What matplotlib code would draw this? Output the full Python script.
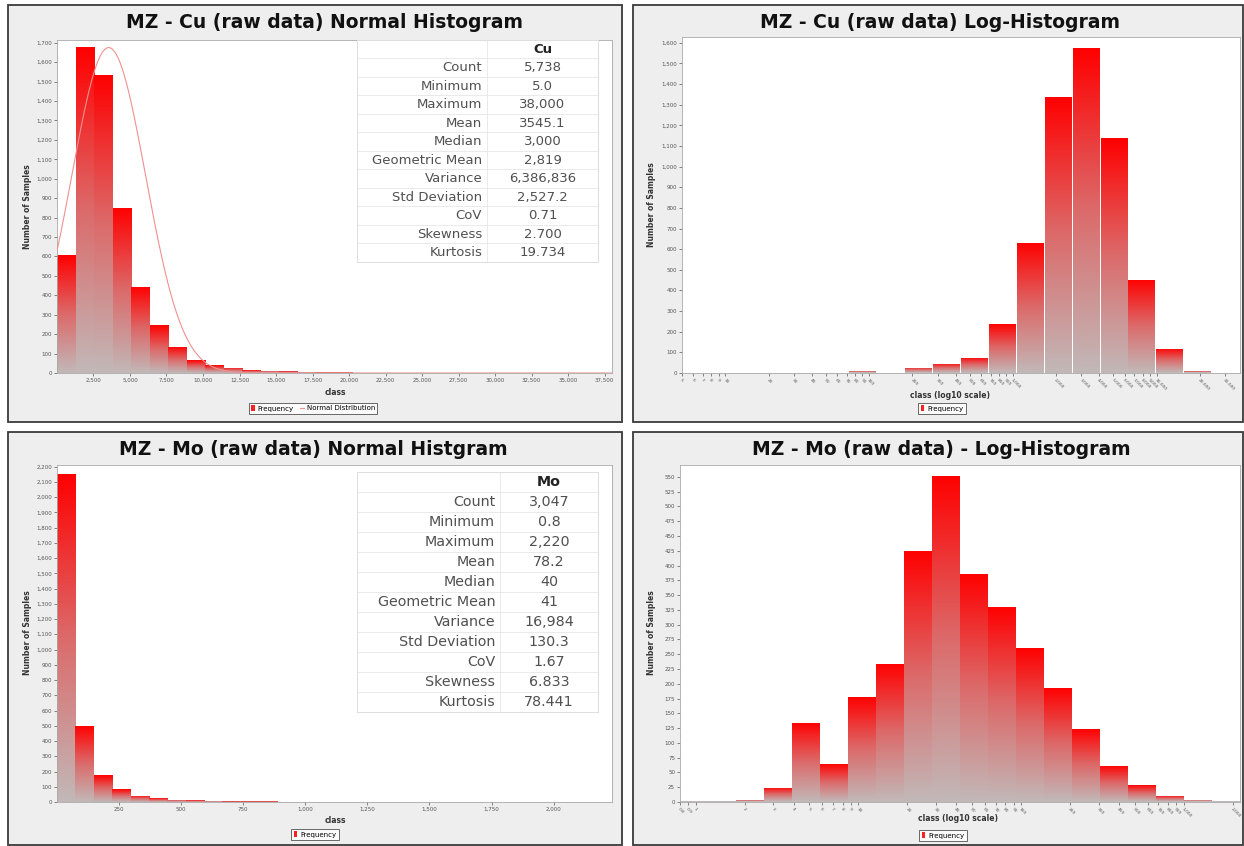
import numpy as np
import matplotlib.pyplot as plt
from matplotlib.patches import Rectangle, Patch
from matplotlib.lines import Line2D
from matplotlib.colors import LinearSegmentedColormap
from matplotlib.ticker import FuncFormatter, MultipleLocator, FixedLocator, NullLocator

W, H = 1244, 846
fig = plt.figure(figsize=(W / 100, H / 100), dpi=100)

# ---- data ----
stat_labels = ['Count', 'Minimum', 'Maximum', 'Mean', 'Median', 'Geometric Mean',
               'Variance', 'Std Deviation', 'CoV', 'Skewness', 'Kurtosis']
cu_stats = ['5,738', '5.0', '38,000', '3545.1', '3,000', '2,819',
            '6,386,836', '2,527.2', '0.71', '2.700', '19.734']
mo_stats = ['3,047', '0.8', '2,220', '78.2', '40', '41',
            '16,984', '130.3', '1.67', '6.833', '78.441']

cu_min, cu_max, cu_mean, cu_std = 5.0, 38000.0, 3545.1, 2527.2
mo_min, mo_max = 0.8, 2220.0

# 30 equal bins, Cu raw
cu_counts = [606, 1677, 1534, 850, 443, 247, 134, 65, 41, 27, 14, 12, 8, 6, 4,
             3, 2, 2, 1, 1, 1, 1, 0, 1, 0, 0, 1, 0, 0, 1]
cu_norm_peak = 1675
# 20 log bins, Cu
cu_log_counts = [0, 0, 0, 0, 0, 0, 10, 0, 29, 48, 77, 238, 634, 1340, 1575,
                 1140, 455, 121, 10, 0]
# 30 equal bins, Mo raw
mo_counts = [2154, 499, 177, 85, 40, 25, 15, 12, 8, 6, 5, 4, 3, 3, 2,
             2, 1, 1, 1, 1, 0, 1, 0, 0, 0, 0, 0, 0, 0, 1]
# 20 log bins, Mo
mo_log_counts = [2, 2, 4, 25, 135, 65, 178, 235, 426, 553, 387, 331, 261, 193,
                 124, 62, 29, 11, 5, 2]

cu_x_ticks = np.arange(2500, 37501, 2500)
mo_x_ticks = np.arange(250, 2001, 250)


def fx(px):
    return px / W


def fy(py):
    return 1 - py / H


grad_cmap = LinearSegmentedColormap.from_list('bar', ['#c2b8b8', '#dc6a6a', '#ff0000'])
grad = np.linspace(0, 1, 256).reshape(-1, 1)

comma = FuncFormatter(lambda v, p: f'{v:,.0f}')


def log_label(v, p=None):
    if v < 1:
        return f'{v:.1f}'
    return f'{v:,.0f}'


def panel(x0, y0, x1, y1, title, tx):
    fig.patches.append(Rectangle((fx(x0), fy(y1)), (x1 - x0) / W, (y1 - y0) / H,
                                 transform=fig.transFigure, facecolor='#eeeeee',
                                 edgecolor='#3a3a3a', lw=1.3, zorder=-5))
    fig.text(fx(tx), fy(y0 + 17), title, ha='center', va='center',
             fontsize=13.5, fontweight='bold', color='#111111')


def make_axes(x0, y0, x1, y1):
    ax = fig.add_axes([fx(x0), fy(y1), (x1 - x0) / W, (y1 - y0) / H])
    ax.set_facecolor('white')
    for s in ax.spines.values():
        s.set_color('#a8a8a8')
        s.set_linewidth(0.6)
    ax.tick_params(labelsize=4, colors='#555555', length=2, width=0.5, pad=1.5)
    return ax


def gradient_bars(ax, edges, counts):
    edges = np.asarray(edges)
    bars = ax.bar(edges[:-1], counts, width=np.diff(edges), align='edge',
                  color='none', edgecolor='none', zorder=2)
    for b in bars:
        h = b.get_height()
        if h <= 0:
            continue
        xa = b.get_x()
        im = ax.imshow(grad, cmap=grad_cmap, origin='lower', aspect='auto',
                       extent=(xa, xa + b.get_width(), 0, h),
                       interpolation='bilinear', zorder=2)
        im.set_clip_path(b)
    return bars


def draw_table(x0, y0, x1, y1, split_px, header, values, fs):
    tab = fig.add_axes([fx(x0), fy(y1), (x1 - x0) / W, (y1 - y0) / H])
    tab.set_facecolor('white')
    n = len(stat_labels) + 1
    tab.set_xlim(0, 1)
    tab.set_ylim(n, 0)
    tab.set_xticks([])
    tab.set_yticks([])
    for s in tab.spines.values():
        s.set_color('#dddddd')
        s.set_linewidth(0.7)
    split = (split_px - x0) / (x1 - x0)
    vc = (split + 1) / 2
    tab.text(vc, 0.5, header, ha='center', va='center', fontsize=fs,
             fontweight='bold', color='#222222')
    for i, (lab, val) in enumerate(zip(stat_labels, values)):
        yy = i + 1.5
        tab.text(split - 0.02, yy, lab, ha='right', va='center', fontsize=fs, color='#505050')
        tab.text(vc, yy, val, ha='center', va='center', fontsize=fs, color='#505050')
        tab.axhline(i + 1, color='#e6e6e6', lw=0.6)
    tab.axvline(split, color='#e6e6e6', lw=0.6)


def legend(cx, top, with_curve):
    handles = [Patch(facecolor='#ff2020', edgecolor='none', label='Frequency')]
    if with_curve:
        handles.append(Line2D([], [], color='#f09090', lw=0.8, label='Normal Distribution'))
    leg = fig.legend(handles=handles, loc='upper center', bbox_to_anchor=(fx(cx), fy(top)),
                     fontsize=5, frameon=True, fancybox=False, ncol=len(handles),
                     handlelength=0.5, handleheight=0.8, handletextpad=0.4,
                     columnspacing=1.0, borderpad=0.35, borderaxespad=0)
    leg.get_frame().set_edgecolor('#444444')
    leg.get_frame().set_linewidth(0.7)


def labels(ax_ylab_x, ycenter, xlab, xlab_x, xlab_y):
    fig.text(fx(ax_ylab_x), fy(ycenter), 'Number of Samples', rotation=90,
             ha='center', va='center', fontsize=5.5, fontweight='bold', color='#333333')
    fig.text(fx(xlab_x), fy(xlab_y), xlab, ha='center', va='center',
             fontsize=5.5, fontweight='bold', color='#333333')


# ---- top left: Cu normal histogram ----
panel(8, 5, 622, 422, 'MZ - Cu (raw data) Normal Histogram', 325)
ax1 = make_axes(57, 40, 612, 373)
cu_edges = np.linspace(cu_min, cu_max, len(cu_counts) + 1)
gradient_bars(ax1, cu_edges, cu_counts)
xc = np.linspace(cu_min, cu_max, 600)
ax1.plot(xc, cu_norm_peak * np.exp(-0.5 * ((xc - cu_mean) / cu_std) ** 2),
         color='#f09090', lw=0.8, zorder=3)
ax1.set_xlim(cu_min, cu_max)
ax1.set_ylim(0, 1714)
ax1.xaxis.set_major_locator(FixedLocator(cu_x_ticks))
ax1.yaxis.set_major_locator(MultipleLocator(100))
ax1.xaxis.set_major_formatter(comma)
ax1.yaxis.set_major_formatter(comma)
labels(27, 207, 'class', 335, 392)
legend(313, 403, True)
draw_table(357, 40, 598, 262, 487, 'Cu', cu_stats, 9.5)

# ---- top right: Cu log histogram ----
panel(633, 5, 1243, 422, 'MZ - Cu (raw data) Log-Histogram', 940)
ax2 = make_axes(682, 37, 1240, 373)
ax2.set_xscale('log')
cu_log_edges = np.logspace(np.log10(cu_min), np.log10(cu_max), len(cu_log_counts) + 1)
gradient_bars(ax2, cu_log_edges, cu_log_counts)
ax2.set_xlim(cu_min, cu_max)
ax2.set_ylim(0, 1628)
cu_log_ticks = [m * 10 ** e for e in range(0, 5) for m in range(1, 10)
                if cu_min <= m * 10 ** e <= cu_max]
ax2.xaxis.set_major_locator(FixedLocator(cu_log_ticks))
ax2.xaxis.set_minor_locator(NullLocator())
ax2.xaxis.set_major_formatter(FuncFormatter(log_label))
ax2.yaxis.set_major_locator(MultipleLocator(100))
ax2.yaxis.set_major_formatter(comma)
ax2.tick_params(axis='x', labelsize=3.2)
for t in ax2.get_xticklabels():
    t.set_rotation(-45)
    t.set_ha('left')
    t.set_rotation_mode('anchor')
labels(651, 205, 'class (log10 scale)', 950, 395)
legend(942, 403, False)

# ---- bottom left: Mo normal histogram ----
panel(8, 432, 622, 845, 'MZ - Mo (raw data) Normal Histgram', 313)
ax3 = make_axes(57, 465, 612, 802)
mo_edges = np.linspace(mo_min, mo_max, len(mo_counts) + 1)
gradient_bars(ax3, mo_edges, mo_counts)
ax3.set_xlim(mo_min, mo_max + 15)
ax3.set_ylim(0, 2210)
ax3.xaxis.set_major_locator(FixedLocator(mo_x_ticks))
ax3.yaxis.set_major_locator(MultipleLocator(100))
ax3.xaxis.set_major_formatter(comma)
ax3.yaxis.set_major_formatter(comma)
labels(27, 633, 'class', 335, 820)
legend(315, 829, False)
draw_table(357, 472, 598, 712, 500, 'Mo', mo_stats, 10.3)

# ---- bottom right: Mo log histogram ----
panel(633, 432, 1243, 845, 'MZ - Mo (raw data) - Log-Histogram', 941)
ax4 = make_axes(680, 465, 1240, 802)
ax4.set_xscale('log')
mo_log_edges = np.logspace(np.log10(mo_min), np.log10(mo_max), len(mo_log_counts) + 1)
gradient_bars(ax4, mo_log_edges, mo_log_counts)
ax4.set_xlim(mo_min, mo_max)
ax4.set_ylim(0, 570)
mo_log_ticks = [m * 10.0 ** e for e in range(-1, 4) for m in range(1, 10)
                if mo_min - 1e-9 <= m * 10.0 ** e <= mo_max]
ax4.xaxis.set_major_locator(FixedLocator(mo_log_ticks))
ax4.xaxis.set_minor_locator(NullLocator())
ax4.xaxis.set_major_formatter(FuncFormatter(log_label))
ax4.yaxis.set_major_locator(MultipleLocator(25))
ax4.yaxis.set_major_formatter(comma)
ax4.tick_params(axis='x', labelsize=3.2)
for t in ax4.get_xticklabels():
    t.set_rotation(-45)
    t.set_ha('left')
    t.set_rotation_mode('anchor')
labels(651, 633, 'class (log10 scale)', 958, 818)
legend(943, 830, False)

fig.savefig('out.png', dpi=100, facecolor='white')
